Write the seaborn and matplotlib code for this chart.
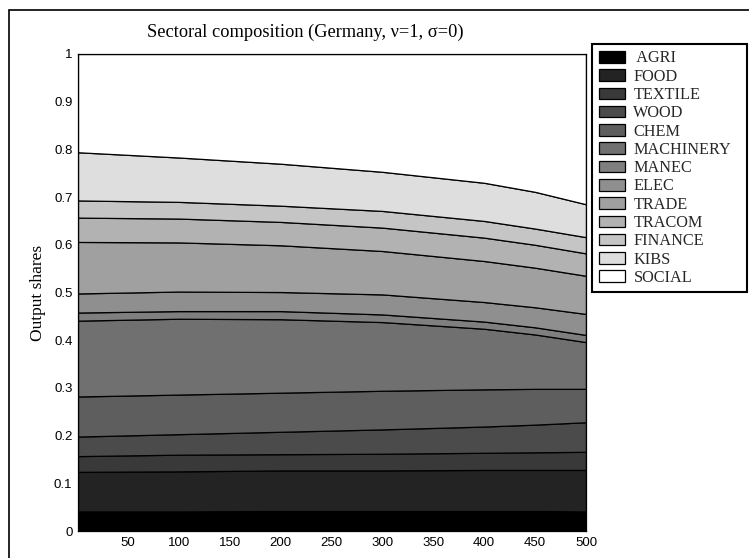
import matplotlib
matplotlib.use('Agg')
import matplotlib.pyplot as plt
import seaborn as sns
from matplotlib.patches import Rectangle

# time periods
periods = [1, 100, 200, 300, 400, 450, 500]

sectors = ['AGRI', 'FOOD', 'TEXTILE', 'WOOD', 'CHEM', 'MACHINERY', 'MANEC',
           'ELEC', 'TRADE', 'TRACOM', 'FINANCE', 'KIBS', 'SOCIAL']

# output shares per sector
agri = [0.041, 0.041, 0.042, 0.042, 0.042, 0.042, 0.041]
food = [0.083, 0.084, 0.085, 0.085, 0.086, 0.086, 0.087]
textile = [0.033, 0.035, 0.034, 0.035, 0.036, 0.037, 0.038]
wood = [0.041, 0.043, 0.047, 0.051, 0.055, 0.058, 0.062]
chem = [0.084, 0.083, 0.082, 0.081, 0.078, 0.075, 0.070]
machinery = [0.159, 0.159, 0.154, 0.144, 0.127, 0.114, 0.098]
manec = [0.017, 0.016, 0.017, 0.016, 0.015, 0.015, 0.015]
elec = [0.040, 0.041, 0.040, 0.042, 0.041, 0.042, 0.044]
trade = [0.108, 0.103, 0.098, 0.091, 0.086, 0.083, 0.080]
tracom = [0.051, 0.050, 0.049, 0.049, 0.049, 0.048, 0.047]
finance = [0.036, 0.035, 0.034, 0.035, 0.035, 0.034, 0.034]
kibs = [0.101, 0.093, 0.088, 0.082, 0.080, 0.077, 0.069]
social = [0.206, 0.217, 0.230, 0.247, 0.270, 0.289, 0.315]

grays = ['#000000', '#232323', '#393939', '#4b4b4b', '#5e5e5e', '#707070',
         '#7f7f7f', '#8f8f8f', '#a0a0a0', '#b2b2b2', '#c5c5c5', '#dedede', '#ffffff']

sns.set_theme(style='white')
plt.rcParams['font.family'] = ['Liberation Sans', 'DejaVu Sans']
serif = ['Liberation Serif', 'DejaVu Serif']

fig = plt.figure(figsize=(7.49, 5.58), dpi=100)
ax = fig.add_axes([78 / 749, 1 - 531 / 558, 508 / 749, 477 / 558])

series = [agri, food, textile, wood, chem, machinery, manec,
          elec, trade, tracom, finance, kibs, social]
labels = [' AGRI'] + sectors[1:]
ax.stackplot(periods, *series, colors=grays, labels=labels,
             edgecolor='black', linewidth=0.9)

ax.set_xlim(1, 500)
ax.set_ylim(0, 1)
ax.set_xticks([50, 100, 150, 200, 250, 300, 350, 400, 450, 500])
ax.set_yticks([0, 0.1, 0.2, 0.3, 0.4, 0.5, 0.6, 0.7, 0.8, 0.9, 1])
ax.set_yticklabels(['0', '0.1', '0.2', '0.3', '0.4', '0.5', '0.6', '0.7', '0.8', '0.9', '1'])
ax.tick_params(axis='both', direction='in', length=3, labelsize=9.5, colors='black', pad=4)
for s in ax.spines.values():
    s.set_color('black')
    s.set_linewidth(0.9)

ax.set_ylabel('Output shares', fontsize=12.5, family=serif, color='black', labelpad=6)
ax.set_title('Sectoral composition (Germany, \u03bd=1, \u03c3=0)', fontsize=13.2,
             family=serif, color='black', x=0.447, pad=12)

leg = ax.legend(loc='upper left', bbox_to_anchor=(592 / 749, 1 - 44 / 558, 155 / 749, 0),
                bbox_transform=fig.transFigure, borderaxespad=0, mode='expand',
                prop={'family': serif, 'size': 11.7}, fancybox=False,
                edgecolor='black', framealpha=1, handlelength=1.6,
                handleheight=0.72, labelspacing=0.14, handletextpad=0.55,
                borderpad=0.4)
leg.get_frame().set_linewidth(1.5)

fig.add_artist(Rectangle((9 / 749, -0.05), 1.1, 1.05 - 10 / 558,
                         transform=fig.transFigure, fill=False,
                         edgecolor='black', linewidth=1.2))

fig.savefig('out.png', dpi=100, facecolor='white')
